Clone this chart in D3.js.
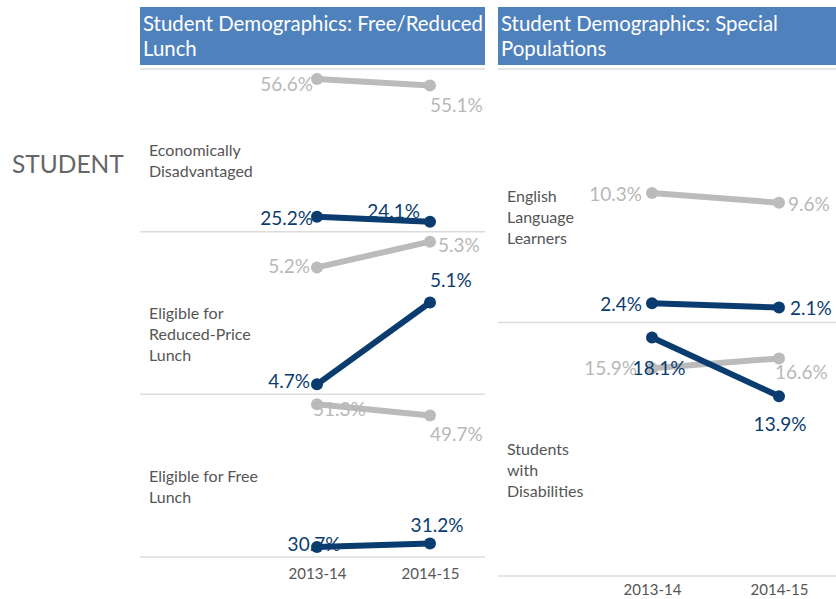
<!DOCTYPE html>
<html>
<head>
<meta charset="utf-8">
<script src="https://cdn.jsdelivr.net/npm/d3@7/dist/d3.min.js"></script>
<style>
body { margin: 0; background: #fff; }
text { font-family: Lato, "Open Sans", sans-serif; }
</style>
</head>
<body>
<div id="chart-area"></div>
<script>
// years on the x axis
var years = ["2013-14", "2014-15"];

// left panel: free / reduced lunch
var lunchTitle = ["Student Demographics: Free/Reduced", "Lunch"];
var lunchRows = [["Economically", "Disadvantaged"], ["Eligible for", "Reduced-Price", "Lunch"], ["Eligible for Free", "Lunch"]];
var lunchState = [[56.6, 55.1], [5.23, 5.34], [51.3, 49.7]];
var lunchSchool = [[25.2, 24.1], [4.73, 5.08], [30.7, 31.2]];

// right panel: special populations
var specialTitle = ["Student Demographics: Special", "Populations"];
var specialRows = [["English", "Language", "Learners"], ["Students", "with", "Disabilities"]];
var specialState = [[10.3, 9.6], [15.9, 16.6]];
var specialSchool = [[2.4, 2.1], [18.1, 13.9]];

var width = 836, height = 599;
var grey = "#bbbbbb", blue = "#0b3c70";
var fmt = function (v) { return d3.format(".1f")(v) + "%"; };

// label offsets [dx, dy, anchor] for each point (tableau placed them by hand)
var lunchStateLab = [[[-4, 12, "end"], [0, 26, "start"]], [[-7, 6, "end"], [8, 10, "start"]], [[-4, 12, "start"], [0, 26, "start"]]];
var lunchSchoolLab = [[[-4, 8, "end"], [-10, -4, "end"]], [[-7, 4, "end"], [0, -15, "start"]], [[-3, 4, "middle"], [7, -12, "middle"]]];
var specialStateLab = [[[-10, 8, "end"], [9, 8, "start"]], [[-15, 7, "end"], [-4, 21, "start"]]];
var specialSchoolLab = [[[-10, 8, "end"], [11, 7, "start"]], [[7, 37, "middle"], [1, 35, "middle"]]];

var svg = d3.select("#chart-area")
	.append("svg")
	.attr("width", width)
	.attr("height", height);

// big side label
svg.append("text")
	.attr("x", 12)
	.attr("y", 173)
	.attr("font-size", "24.5px")
	.attr("fill", "#666")
	.text("STUDENT");

function drawPanel(p) {
	var g = svg.append("g");

	// title box
	g.append("rect")
		.attr("x", p.left)
		.attr("y", 7)
		.attr("width", p.right - p.left)
		.attr("height", 58)
		.attr("fill", "#4f81bd");

	g.selectAll(".title")
		.data(p.title)
		.enter()
		.append("text")
		.attr("class", "title")
		.attr("x", p.left + 3)
		.attr("y", function (d, i) { return 31 + i * 25; })
		.attr("font-size", "20.4px")
		.attr("fill", "#fff")
		.text(function (d) { return d; });

	var x = d3.scalePoint()
		.domain(years)
		.range(p.xRange);

	var rowH = (p.bottom - p.top) / p.rows.length;

	// separator lines
	var lines = d3.range(p.rows.length + 1);
	g.selectAll(".sep")
		.data(lines)
		.enter()
		.append("line")
		.attr("class", "sep")
		.attr("x1", p.left)
		.attr("x2", p.right)
		.attr("y1", function (d) { return p.top + d * rowH; })
		.attr("y2", function (d) { return p.top + d * rowH; })
		.attr("stroke", "#dcdcdc")
		.attr("stroke-width", 1.5);

	// shared extent for the whole panel (used when p.shared)
	var allVals = d3.merge(p.state.concat(p.school));

	p.rows.forEach(function (row, r) {
		var top = p.top + r * rowH;
		var ext = p.shared ? d3.extent(allVals) : d3.extent(p.state[r].concat(p.school[r]));
		var y = d3.scaleLinear()
			.domain(ext)
			.range([top + rowH - p.pad, top + p.pad]);

		// row label
		g.append("text")
			.attr("x", p.left + 9)
			.attr("y", top + rowH / 2 + 6)
			.attr("font-size", "16px")
			.attr("fill", "#555")
			.selectAll("tspan")
			.data(row)
			.enter()
			.append("tspan")
			.attr("x", p.left + 9)
			.attr("dy", function (d, i) { return i === 0 ? 0 : 21; })
			.text(function (d) { return d; });

		var series = [
			{vals: p.state[r], color: grey, labs: p.stateLab[r]},
			{vals: p.school[r], color: blue, labs: p.schoolLab[r]}
		];

		series.forEach(function (s) {
			var pts = s.vals.map(function (v, i) { return {year: years[i], v: v, lab: s.labs[i]}; });

			g.append("path")
				.datum(pts)
				.attr("fill", "none")
				.attr("stroke", s.color)
				.attr("stroke-width", 6)
				.attr("d", d3.line()
					.x(function (d) { return x(d.year); })
					.y(function (d) { return y(d.v); }));

			g.selectAll(null)
				.data(pts)
				.enter()
				.append("circle")
				.attr("cx", function (d) { return x(d.year); })
				.attr("cy", function (d) { return y(d.v); })
				.attr("r", 6)
				.attr("fill", s.color);

			g.selectAll(null)
				.data(pts)
				.enter()
				.append("text")
				.attr("x", function (d) { return x(d.year) + d.lab[0]; })
				.attr("y", function (d) { return y(d.v) + d.lab[1]; })
				.attr("text-anchor", function (d) { return d.lab[2]; })
				.attr("font-size", "19px")
				.attr("fill", s.color === grey ? "#b8b8b8" : blue)
				.text(function (d) { return fmt(d.v); });
		});
	});

	// x axis (year labels only)
	var ax = g.append("g")
		.attr("transform", "translate(0," + p.bottom + ")")
		.call(d3.axisBottom(x).tickSize(0).tickPadding(p.axisPad));
	ax.select(".domain").remove();
	ax.selectAll("text")
		.attr("font-family", "Lato, sans-serif")
		.attr("font-size", "15px")
		.attr("fill", "#555");
}

drawPanel({
	left: 140, right: 485, top: 69, bottom: 557, pad: 10, shared: false,
	xRange: [317, 430], axisPad: 11,
	title: lunchTitle, rows: lunchRows, state: lunchState, school: lunchSchool,
	stateLab: lunchStateLab, schoolLab: lunchSchoolLab
});

drawPanel({
	left: 498, right: 836, top: 69, bottom: 576, pad: 15, shared: true,
	xRange: [652, 779], axisPad: 8,
	title: specialTitle, rows: specialRows, state: specialState, school: specialSchool,
	stateLab: specialStateLab, schoolLab: specialSchoolLab
});
</script>
</body>
</html>
